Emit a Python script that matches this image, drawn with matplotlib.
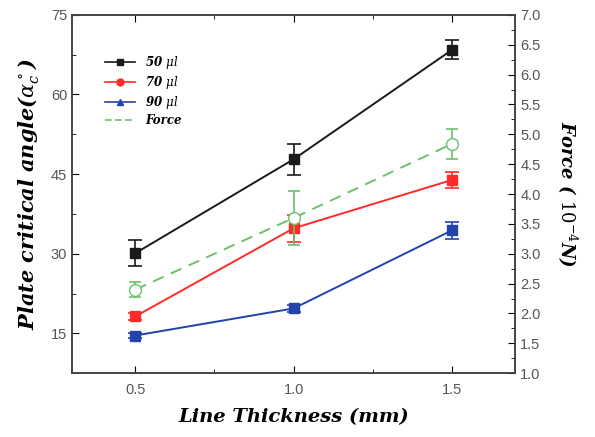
import matplotlib.pyplot as plt
from matplotlib.lines import Line2D
from matplotlib.ticker import MultipleLocator

# Data
thickness = [0.5, 1.0, 1.5]

angle_50 = [30.1, 47.8, 68.4]
err_50 = [2.5, 2.9, 1.8]
angle_70 = [18.2, 34.8, 43.9]
err_70 = [0.7, 2.5, 1.5]
angle_90 = [14.6, 19.7, 34.4]
err_90 = [0.5, 0.6, 1.6]

force = [2.4, 3.6, 4.84]
err_force = [0.12, 0.45, 0.25]

black = '#1a1a1a'
red = '#ff2a2a'
blue = '#2244aa'
green = '#6cbf6c'
tick_col = '#555555'

plt.rcParams['mathtext.fontset'] = 'dejavuserif'

fig = plt.figure(figsize=(5.95, 4.37), dpi=100)
ax = fig.add_axes([0.121, 0.146, 0.745, 0.82])
ax2 = ax.twinx()

# angle series on the left axis
for y, e, c in [(angle_50, err_50, black), (angle_70, err_70, red), (angle_90, err_90, blue)]:
    ax.errorbar(thickness, y, yerr=e, color=c, marker='s', markersize=7.5,
                linewidth=1.4, capsize=5, elinewidth=1.2, capthick=1.2, zorder=3)

# force on the right axis
ax2.errorbar(thickness, force, yerr=err_force, color=green, marker='o', markersize=8.5,
             markerfacecolor='white', markeredgecolor=green, linestyle=(0, (6, 4)),
             linewidth=1.4, capsize=4, elinewidth=1.2, capthick=1.2, zorder=3)

ax.set_xlim(0.3, 1.7)
ax.set_ylim(7.5, 75)
ax2.set_ylim(1.0, 7.0)

ax.xaxis.set_major_locator(MultipleLocator(0.5))
ax.xaxis.set_minor_locator(MultipleLocator(0.25))
ax.yaxis.set_major_locator(MultipleLocator(15))
ax.yaxis.set_minor_locator(MultipleLocator(7.5))
ax2.yaxis.set_major_locator(MultipleLocator(0.5))
ax2.yaxis.set_minor_locator(MultipleLocator(0.25))

ax.tick_params(axis='x', which='both', direction='in', top=True, labelsize=10.5,
               labelcolor=tick_col, pad=7)
ax.tick_params(axis='y', which='both', direction='in', labelsize=10.5,
               labelcolor=tick_col)
ax.tick_params(which='major', length=5)
ax.tick_params(which='minor', length=3)
ax2.tick_params(axis='y', which='both', direction='in', labelsize=10.5,
                labelcolor=tick_col)
ax2.tick_params(which='major', length=5)
ax2.tick_params(which='minor', length=3)

for a in (ax, ax2):
    for s in a.spines.values():
        s.set_color('#444444')
        s.set_linewidth(1.2)
    for lab in a.get_xticklabels() + a.get_yticklabels():
        lab.set_family('Liberation Sans')

ax.set_xticks([0.5, 1.0, 1.5])
ax.set_xticklabels(['0.5', '1.0', '1.5'], family='Liberation Sans')

label_font = dict(family='DejaVu Serif', style='italic', weight='bold')
ax.set_xlabel('Line Thickness (mm)', labelpad=8, fontsize=14, **label_font)
ax.set_ylabel(r'Plate critical angle($\alpha_c^\circ$)', labelpad=6, fontsize=15,
              **label_font)
ax2.set_ylabel(r'Force ( $10^{-4}$N)', rotation=270, labelpad=28, fontsize=13,
               **label_font)

handles = [
    Line2D([], [], color=black, marker='s', markersize=5, linewidth=1.2),
    Line2D([], [], color=red, marker='o', markersize=5, linewidth=1.2),
    Line2D([], [], color=blue, marker='^', markersize=5, linewidth=1.2),
    Line2D([], [], color=green, linestyle=(0, (4, 2)), linewidth=1.2),
]
labels = [r'50 $\mu l$', r'70 $\mu l$', r'90 $\mu l$', 'Force']
leg = ax.legend(handles, labels, loc='upper left', bbox_to_anchor=(0.05, 0.92),
                frameon=False, handlelength=2.6, labelspacing=0.25,
                prop=dict(family='DejaVu Serif', style='italic', weight='bold', size=8.5))

fig.savefig('out.png', dpi=100)
